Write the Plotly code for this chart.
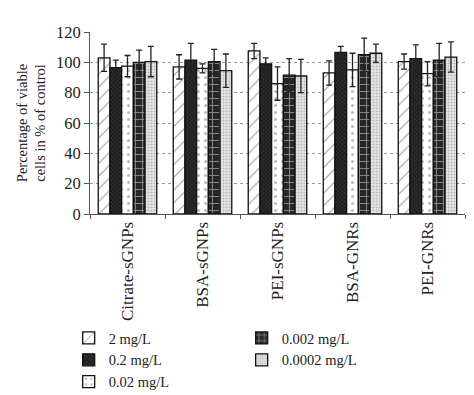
import plotly.graph_objects as go

categories = ["Citrate-sGNPs", "BSA-sGNPs", "PEI-sGNPs", "BSA-GNRs", "PEI-GNRs"]
series_names = ["2 mg/L", "0.2 mg/L", "0.02 mg/L", "0.002 mg/L", "0.0002 mg/L"]

v_2 = [103, 97, 107.5, 93, 100.5]
v_02 = [96.5, 101.5, 99, 106.5, 102.5]
v_002 = [97.5, 96, 86, 95, 92.5]
v_0002 = [100, 100.5, 91.5, 105, 101.5]
v_00002 = [100.5, 94.5, 91, 106, 103.5]

e_2 = [9, 8, 5, 8, 5]
e_02 = [5, 11, 4, 4, 9]
e_002 = [7, 3, 11, 11, 8]
e_0002 = [8, 8, 11, 11, 11]
e_00002 = [10, 11, 11, 6, 10]

values = [v_2, v_02, v_002, v_0002, v_00002]
errors = [e_2, e_02, e_002, e_0002, e_00002]

patterns = [
    dict(shape="/", bgcolor="white", fgcolor="#333333", size=9, solidity=0.12),
    dict(shape="x", bgcolor="#1e1e1e", fgcolor="#555555", size=3, solidity=0.35),
    dict(shape=".", bgcolor="white", fgcolor="#777777", size=7, solidity=0.15),
    dict(shape="+", bgcolor="#262626", fgcolor="#f0f0f0", size=7, solidity=0.25),
    dict(shape=".", bgcolor="#e8e8e8", fgcolor="#888888", size=3, solidity=0.4),
]
ranks = [1, 3, 5, 2, 4]

fig = go.Figure()
for name, v, e, p, r in zip(series_names, values, errors, patterns, ranks):
    fig.add_trace(go.Bar(
        x=categories, y=v, name=name, legendrank=r,
        marker=dict(color=p["bgcolor"], pattern=p,
                    line=dict(color="#111111", width=1.3)),
        error_y=dict(type="data", array=e, color="#222222", thickness=1.3, width=3),
    ))

font = "Liberation Serif"
fig.update_layout(
    width=474, height=395,
    margin=dict(l=82, r=17, t=24, b=189, autoexpand=False),
    paper_bgcolor="white", plot_bgcolor="white",
    barmode="group", bargap=0.22, bargroupgap=0,
    font=dict(family=font, size=14, color="#222222"),
    showlegend=True,
    legend=dict(orientation="h", xref="container", yref="container",
                x=0.128, y=0.205, xanchor="left", yanchor="top",
                entrywidth=128, entrywidthmode="pixels",
                font=dict(family=font, size=14.5), itemwidth=30,
                tracegroupgap=0, traceorder="normal"),
)
fig.update_xaxes(
    type="category", tickangle=-90, tickson="boundaries",
    ticks="outside", ticklen=4, tickcolor="#555555",
    showline=True, linecolor="#555555", linewidth=1,
    tickfont=dict(family=font, size=17), showgrid=False, automargin=False,
)
fig.update_yaxes(
    range=[0, 120], tickvals=[0, 20, 40, 60, 80, 100, 120],
    ticks="outside", ticklen=5, tickcolor="#555555",
    showline=True, linecolor="#555555", linewidth=1,
    showgrid=True, gridcolor="#999999", griddash="dot", gridwidth=1,
    tickfont=dict(family=font, size=16.5), zeroline=False, automargin=False,
    title=dict(text="Percentage of viable<br>cells in % of control",
               font=dict(family=font, size=14.5), standoff=6),
)
fig.write_html("out.html")
